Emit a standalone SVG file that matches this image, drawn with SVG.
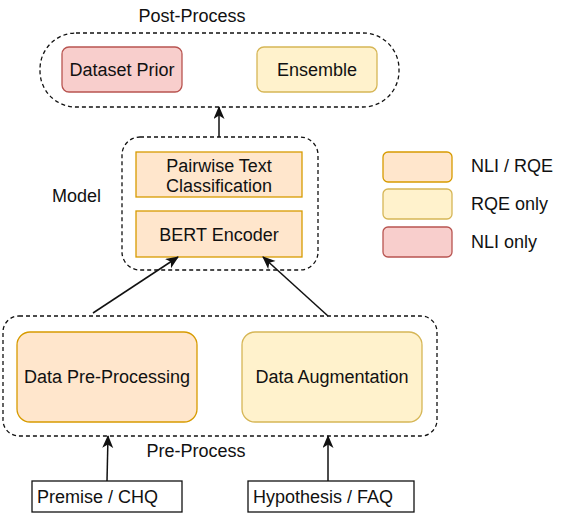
<svg xmlns="http://www.w3.org/2000/svg" width="575" height="513" viewBox="0 0 575 513">
<defs>
<style>
text{font-family:"Liberation Sans",Arial,Helvetica,sans-serif;font-size:18px;fill:#111}
.c{text-anchor:middle}
.grp{fill:none;stroke:#111;stroke-width:1.3;stroke-dasharray:4 3}
.both{fill:#ffe6cc;stroke:#d79b00;stroke-width:1.3}
.rqe{fill:#fff2cc;stroke:#d6b656;stroke-width:1.3}
.nli{fill:#f8cecc;stroke:#b85450;stroke-width:1.3}
.inp{fill:#fff;stroke:#111;stroke-width:1.3}
.edge{fill:none;stroke:#111;stroke-width:1.5;marker-end:url(#arr)}
</style>
<marker id="arr" markerUnits="userSpaceOnUse" markerWidth="14" markerHeight="12" refX="12" refY="5.5" orient="auto">
<path d="M0,0 L13,5.5 L0,11 L3.5,5.5 Z" fill="#111"/>
</marker>
</defs>
<rect width="575" height="513" fill="#fff"/>

<g id="postprocess">
<rect class="grp" x="40" y="33" width="359" height="74" rx="36"/>
<text class="c" x="192" y="22">Post-Process</text>
</g>
<g id="dataset-prior">
<rect class="nli" x="62" y="47" width="120" height="45" rx="7"/>
<text class="c" x="122" y="76">Dataset Prior</text>
</g>
<g id="ensemble">
<rect class="rqe" x="257" y="47" width="120" height="45" rx="7"/>
<text class="c" x="317" y="76">Ensemble</text>
</g>

<g id="model">
<rect class="grp" x="122" y="137" width="196" height="133" rx="18"/>
<text x="52" y="202">Model</text>
</g>
<g id="pairwise">
<rect class="both" x="136" y="152" width="166" height="45"/>
<text class="c" x="219" y="172">Pairwise Text</text>
<text class="c" x="219" y="192">Classification</text>
</g>
<g id="bert">
<rect class="both" x="136" y="211" width="166" height="46"/>
<text class="c" x="219" y="241">BERT Encoder</text>
</g>

<g id="legend-both">
<rect class="both" x="383" y="152" width="69" height="30" rx="5"/>
<text x="471" y="172">NLI / RQE</text>
</g>
<g id="legend-rqe">
<rect class="rqe" x="383" y="189" width="69" height="30" rx="5"/>
<text x="471" y="210">RQE only</text>
</g>
<g id="legend-nli">
<rect class="nli" x="383" y="227" width="69" height="30" rx="5"/>
<text x="471" y="248">NLI only</text>
</g>

<g id="preprocess">
<rect class="grp" x="3" y="316" width="434" height="120" rx="16"/>
<text class="c" x="196" y="457">Pre-Process</text>
</g>
<g id="data-preprocessing">
<rect class="both" x="17" y="332" width="180" height="90" rx="13"/>
<text class="c" x="107" y="383">Data Pre-Processing</text>
</g>
<g id="data-augmentation">
<rect class="rqe" x="242" y="332" width="180" height="90" rx="13"/>
<text class="c" x="332" y="383">Data Augmentation</text>
</g>

<g id="premise">
<rect class="inp" x="32" y="481" width="150" height="31"/>
<text x="37" y="503">Premise / CHQ</text>
</g>
<g id="hypothesis">
<rect class="inp" x="248" y="481" width="166" height="31"/>
<text x="253" y="503">Hypothesis / FAQ</text>
</g>

<g id="connectors">
<line class="edge" x1="219" y1="137" x2="219" y2="107"/>
<line class="edge" x1="93" y1="313" x2="178" y2="257"/>
<line class="edge" x1="328" y1="316" x2="263" y2="257"/>
<line class="edge" x1="107" y1="481" x2="108" y2="436"/>
<line class="edge" x1="328" y1="481" x2="328" y2="436"/>
</g>
</svg>
